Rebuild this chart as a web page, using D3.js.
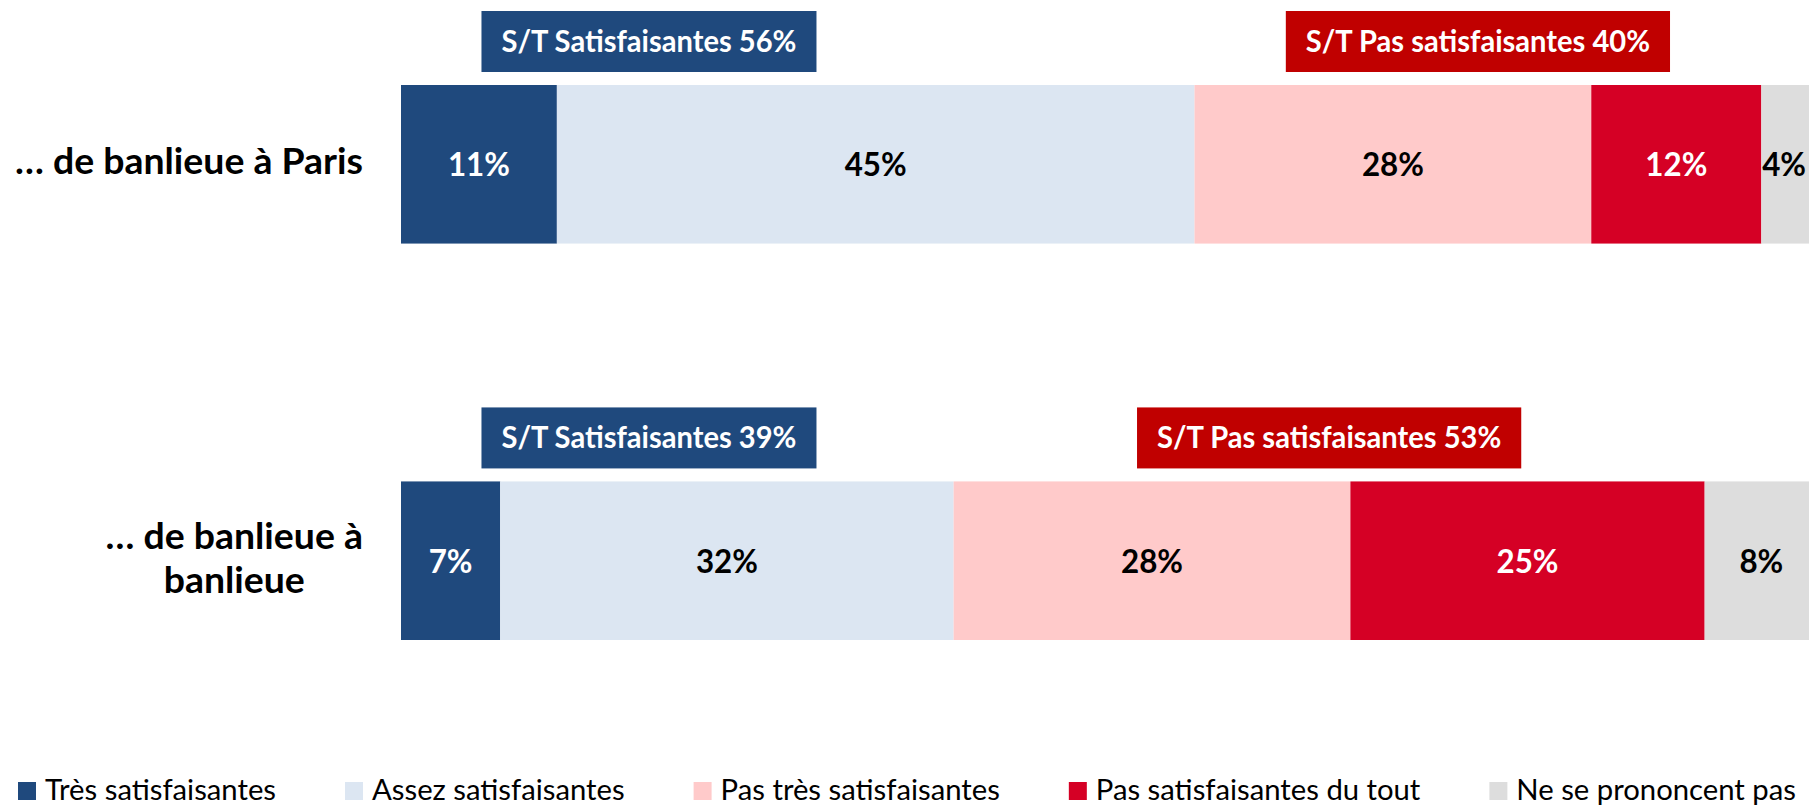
<!DOCTYPE html>
<html>
<head>
<meta charset="utf-8">
<script src="https://cdn.jsdelivr.net/npm/d3@7"></script>
<style>
  html, body { margin: 0; padding: 0; background: #ffffff; overflow: hidden; }
  svg { display: block; }
</style>
</head>
<body>
<script>
// ---------- DATA ----------
const categories = ["… de banlieue à Paris", "… de banlieue à banlieue"];
const seriesNames = ["Très satisfaisantes", "Assez satisfaisantes", "Pas très satisfaisantes", "Pas satisfaisantes du tout", "Ne se prononcent pas"];
const tresSatisfaisantes    = [11, 7];
const assezSatisfaisantes   = [45, 32];
const pasTresSatisfaisantes = [28, 28];
const pasDuToutSatisfaisantes = [12, 25];
const neSePrononcentPas     = [4, 8];
const totalSatisfaisantes    = [56, 39];
const totalPasSatisfaisantes = [40, 53];
const boxLabelSat = "S/T Satisfaisantes";
const boxLabelPas = "S/T Pas satisfaisantes";

// ---------- STYLE ----------
const colors = ["#1F497D", "#DCE6F2", "#FFCACA", "#D50025", "#DDDDDD"];
const labelColors = ["#ffffff", "#000000", "#000000", "#ffffff", "#000000"];
const boxColors = ["#1F497D", "#C00000"];
const FONT = "Lato, 'Open Sans', sans-serif";

const W = 1809, H = 805;
const svg = d3.select("body").append("svg").attr("width", W).attr("height", H);

const keys = ["s0", "s1", "s2", "s3", "s4"];
const rows = categories.map((c, i) => ({
  cat: c,
  s0: tresSatisfaisantes[i], s1: assezSatisfaisantes[i], s2: pasTresSatisfaisantes[i],
  s3: pasDuToutSatisfaisantes[i], s4: neSePrononcentPas[i],
  sat: totalSatisfaisantes[i], pas: totalPasSatisfaisantes[i]
}));
const stacked = d3.stack().keys(keys)(rows);

const x = d3.scaleLinear().domain([0, 100]).range([401, 1818]);
const y = d3.scaleBand().domain(categories).range([85, 640]).paddingInner(0.6).paddingOuter(0);

function condense(sel, factor) {
  sel.each(function () {
    const n = this.getComputedTextLength();
    d3.select(this).attr("textLength", n * factor).attr("lengthAdjust", "spacingAndGlyphs");
  });
}

// ---------- BARS ----------
const gBars = svg.append("g");
stacked.forEach((layer, li) => {
  gBars.selectAll(null).data(layer).join("rect")
    .attr("x", d => x(d[0]))
    .attr("y", d => y(d.data.cat))
    .attr("width", d => x(d[1]) - x(d[0]))
    .attr("height", y.bandwidth())
    .attr("fill", colors[li]);
});

// segment labels
const segLabels = svg.append("g");
stacked.forEach((layer, li) => {
  segLabels.selectAll(null).data(layer).join("text")
    .attr("x", d => (x(d[0]) + x(d[1])) / 2)
    .attr("y", d => y(d.data.cat) + y.bandwidth() / 2 + 12)
    .attr("text-anchor", "middle")
    .attr("font-family", FONT).attr("font-weight", "bold").attr("font-size", 33)
    .attr("fill", labelColors[li])
    .text(d => (d[1] - d[0]) + "%");
});
{
  const t = segLabels.selectAll("text");
  const ref = t.nodes()[0].getComputedTextLength();
  const f = 62 / ref;
  t.each(function () {
    const n = this.getComputedTextLength() * f;
    const sel = d3.select(this).attr("textLength", n).attr("lengthAdjust", "spacingAndGlyphs");
    // keep labels inside the visible area
    const cx = +sel.attr("x");
    if (cx + n / 2 > W - 3) sel.attr("x", W - 3 - n / 2);
  });
}

// ---------- SUMMARY BOXES ----------
const gBoxes = svg.append("g");
const boxH = 61, boxGap = 13, pad = 20;
const satAnchor = 17.5;
const boxItems = [];
rows.forEach((r, i) => {
  const top = y(r.cat) - boxGap - boxH;
  boxItems.push({ text: boxLabelSat + " " + r.sat + "%", cx: x(satAnchor), top, color: boxColors[0] });
  const pasStart = r.s0 + r.s1;
  boxItems.push({ text: boxLabelPas + " " + r.pas + "%", cx: x(pasStart + r.pas / 2), top, color: boxColors[1] });
});
const boxG = gBoxes.selectAll("g").data(boxItems).join("g");
const boxRects = boxG.append("rect").attr("fill", d => d.color);
const boxTexts = boxG.append("text")
  .attr("x", d => d.cx)
  .attr("y", d => d.top + boxH / 2 + 10.5)
  .attr("text-anchor", "middle")
  .attr("font-family", FONT).attr("font-weight", "bold").attr("font-size", 29.5)
  .attr("fill", "#ffffff")
  .text(d => d.text);
{
  const ref = boxTexts.nodes()[0].getComputedTextLength();
  const f = 295 / ref;
  boxTexts.each(function (d) {
    const n = this.getComputedTextLength() * f;
    d.w = n;
    d3.select(this).attr("textLength", n).attr("lengthAdjust", "spacingAndGlyphs");
  });
  boxRects
    .attr("x", d => d.cx - d.w / 2 - pad)
    .attr("y", d => d.top)
    .attr("width", d => d.w + 2 * pad)
    .attr("height", boxH);
}

// ---------- CATEGORY LABELS ----------
const gCat = svg.append("g");
const catSize = 36, lineH = 44, rightEdge = 363, maxW = 352;
const probe = gCat.append("text").attr("font-family", FONT).attr("font-weight", "bold")
  .attr("font-size", catSize).text(categories[0]);
const catFactor = 348 / probe.node().getComputedTextLength();
function measure(s) { probe.text(s); return probe.node().getComputedTextLength() * catFactor; }
categories.forEach(cat => {
  const words = cat.split(" ");
  const lines = [];
  let cur = "";
  words.forEach(w => {
    const test = cur ? cur + " " + w : w;
    if (measure(test) <= maxW || !cur) cur = test; else { lines.push(cur); cur = w; }
  });
  if (cur) lines.push(cur);
  const widths = lines.map(measure);
  const blockW = d3.max(widths);
  const cx = rightEdge - blockW / 2;
  const cy = y(cat) + y.bandwidth() / 2;
  lines.forEach((ln, i) => {
    gCat.append("text")
      .attr("x", cx)
      .attr("y", cy + (i - (lines.length - 1) / 2) * lineH + 10)
      .attr("text-anchor", "middle")
      .attr("font-family", FONT).attr("font-weight", "bold").attr("font-size", catSize)
      .attr("fill", "#000000")
      .attr("textLength", widths[i]).attr("lengthAdjust", "spacingAndGlyphs")
      .text(ln);
  });
});
probe.remove();

// ---------- LEGEND ----------
const gLeg = svg.append("g");
const legProbe = gLeg.append("text").attr("font-family", FONT).attr("font-size", 28).text(seriesNames[0]);
const legFactor = 231 / legProbe.node().getComputedTextLength();
legProbe.remove();
let lx = 18;
seriesNames.forEach((name, i) => {
  gLeg.append("rect").attr("x", lx).attr("y", 782).attr("width", 18).attr("height", 18).attr("fill", colors[i]);
  const t = gLeg.append("text")
    .attr("x", lx + 27).attr("y", 800)
    .attr("font-family", FONT).attr("font-size", 28).attr("fill", "#000000")
    .text(name);
  const w = t.node().getComputedTextLength() * legFactor;
  t.attr("textLength", w).attr("lengthAdjust", "spacingAndGlyphs");
  lx += 27 + w + 69;
});
</script>
</body>
</html>
